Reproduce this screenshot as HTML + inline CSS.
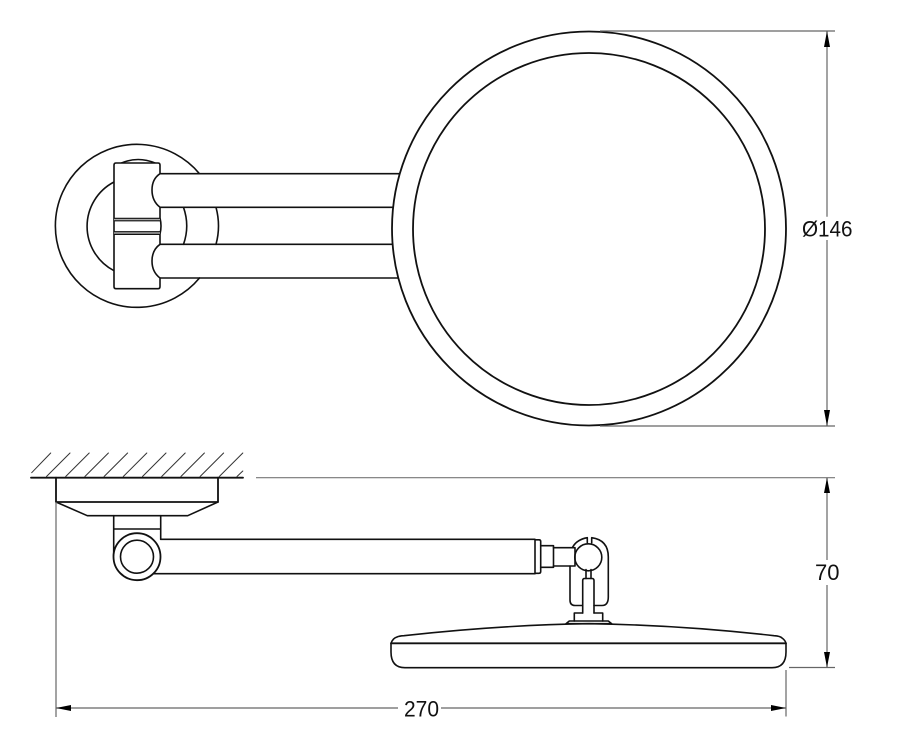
<!DOCTYPE html>
<html>
<head>
<meta charset="utf-8">
<style>
html,body{margin:0;padding:0;background:#fff;}
svg{display:block;}
text{font-family:"Liberation Sans",sans-serif;font-size:22px;fill:#111;}
</style>
</head>
<body>
<svg width="900" height="756" viewBox="0 0 900 756" xmlns="http://www.w3.org/2000/svg">
<g fill="none" stroke="#111" stroke-width="1.6" stroke-linecap="round" stroke-linejoin="round">
  <!-- front view: wall plate -->
  <path d="M199.5 173.7 A81.5 81.5 0 1 0 199.5 278" />
  <path d="M114 182 A50 50 0 0 0 114 270.7" />
  <path d="M121.5 163 Q138 156 155 163" />
  <!-- arms -->
  <path d="M160 173.7 H400 M160 207.3 H392.5 M160 244.3 H392.5 M160 278 H400" />
  <path d="M183.5 207.3 Q190 226 183.5 244.3 M216 207.3 Q221 226 216 244.3" />
  <!-- block -->
  <path fill="#fff" d="M116 163 H158 Q160 163 160 165 V173.7 Q152 179 152 190 Q152 201 160 207.3 V218 Q162 226 160 234 V244.3 Q152 250 152 261 Q152 272 160 278 V286.5 Q160 288.7 158 288.7 H116 Q114 288.7 114 286.5 V165 Q114 163 116 163 Z" />
  <rect x="114" y="218.3" width="46" height="2.5" fill="#aaa" stroke="none" />
  <rect x="114" y="231.7" width="46" height="2.7" fill="#aaa" stroke="none" />
  <path d="M114 218.3 H160 M114 220.8 H160 M114 231.7 H160 M114 234.4 H160" stroke-width="1.2" />
  <!-- mirror -->
  <circle cx="589" cy="228.5" r="197" stroke-width="1.8" fill="#fff" />
  <circle cx="589" cy="229" r="176" stroke-width="1.8" />
  <!-- side view: wall -->
  <path d="M31 477.7 H243" stroke-width="1.8" />
  <path d="M31.7 472.7 L50.7 453 M46.5 476.5 L70 453 M65.7 476.5 L89.2 453 M84.9 476.5 L108.4 453 M104.1 476.5 L127.6 453 M123.3 476.5 L146.8 453 M142.5 476.5 L166 453 M161.7 476.5 L185.2 453 M180.9 476.5 L204.4 453 M200.1 476.5 L223.6 453 M219.3 476.5 L242.8 453 M237 476.5 L242.8 471" stroke-width="1" stroke="#333" />
  <!-- plate -->
  <path d="M56 477.7 V502 H218 V477.7" stroke-width="1.8" />
  <path d="M56 502 L87.3 515.7 H187.7 L218 502" stroke-width="1.6" />
  <!-- neck -->
  <path d="M113.7 515.7 V556 M160.7 515.7 V539.3 M113.7 529 H160.7" />
  <!-- arm -->
  <path d="M160.7 539.3 H535 M152 573.7 H535" />
  <circle cx="137" cy="556.7" r="23.5" stroke-width="1.8" fill="#fff" />
  <circle cx="137" cy="556.7" r="16.5" />
  <!-- joint -->
  <path d="M535 539.8 H539 Q540.7 539.8 540.7 541.5 V571.5 Q540.7 573.3 539 573.3 H535 V539.8 Z" />
  <path d="M540.7 545.7 H553.5 V567.3 H540.7" />
  <path d="M553.5 547.7 H575 V566 H553.5" />
  <circle cx="588.3" cy="557.3" r="13.5" stroke-width="1.6" />
  <path d="M572.7 547 Q577 539.5 587.3 537.7 V542.7 M591.7 542.7 V537.7 Q608.3 540 608.3 557 V597 Q608.3 605.5 602 605.5 H594" />
  <path d="M570 566 V600 Q570 605.5 575 605.5 H582.7" />
  <path d="M586 569.5 V578.5 M591 569.5 V578.5" />
  <path d="M582.7 613 V580.5 Q582.7 578.5 584.5 578.5 H592 Q594 578.5 594 580.5 V613" />
  <path d="M582.7 613 H574.3 V621 M594 613 H602.7 V621" />
  <path d="M566 623.7 L569.3 621 H608.3 L611.7 623.7 Z" />
  <!-- side mirror -->
  <path d="M397 637 Q399 636 404 635.7 Q500 625 589 623.7 Q680 625 774 635.7 Q780 636 782 638 Q785 640 786 643.3 V652 Q786 667.7 772 667.7 H405 Q391 667.7 391 652 V643.3 Q393 638 397 637 Z" stroke-width="1.6" />
  <path d="M391 643.3 H786" stroke-width="1.8" />
</g>
<!-- dimensions -->
<g fill="none" stroke="#666" stroke-width="1.2">
  <path d="M600 31 H835 M600 426 H835" />
  <path d="M827 31 V216.7 M827 240 V426" />
  <path d="M256 477.7 H835" stroke="#777" />
  <path d="M789 667.5 H835" />
  <path d="M827 477.7 V560 M827 585 V667.5" />
  <path d="M56 502 V717 M786 670 V716.5" />
  <path d="M56 708 H398 M441 708 H786" />
</g>
<g fill="#000" stroke="none">
  <path d="M827 31 L830 47 H824 Z" />
  <path d="M827 426 L830 410 H824 Z" />
  <path d="M827 477.7 L830 493 H824 Z" />
  <path d="M827 667.5 L830 652 H824 Z" />
  <path d="M56 708 L71 705 V711 Z" />
  <path d="M786 708 L771 705 V711 Z" />
</g>
<text x="802" y="236.5" textLength="50.5" lengthAdjust="spacingAndGlyphs">Ø146</text>
<text x="815" y="580" textLength="24.5" lengthAdjust="spacingAndGlyphs">70</text>
<text x="404" y="716.5" textLength="35" lengthAdjust="spacingAndGlyphs">270</text>
</svg>
</body>
</html>
